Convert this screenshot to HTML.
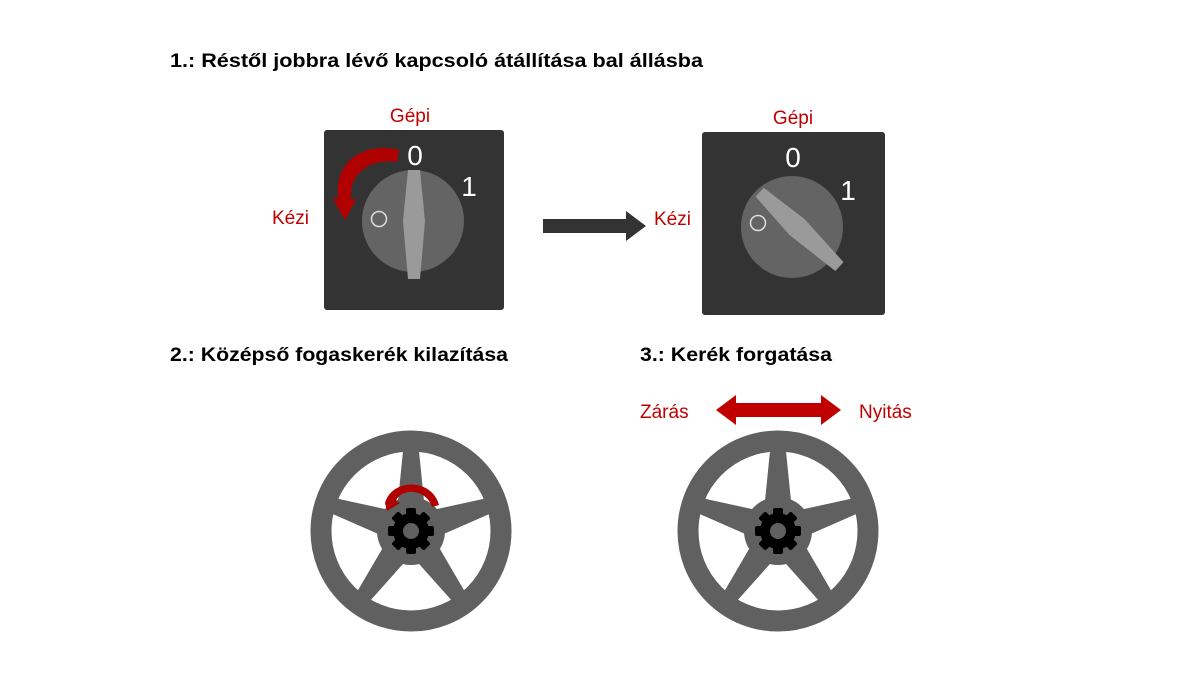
<!DOCTYPE html>
<html><head><meta charset="utf-8"><style>
html,body{margin:0;padding:0;background:#fff;}
svg{display:block;}
</style></head><body>
<svg width="1201" height="676" viewBox="0 0 1201 676" xmlns="http://www.w3.org/2000/svg" font-family="Liberation Sans, sans-serif">
<defs>
<g id="handle"><polygon points="-6,-51 6,-51 11,0 6,58 -6,58 -11,0" fill="#9a9a9a"/></g>
<polygon id="spoke" points="-7,-90 7,-90 15,-10 -15,-10" fill="#606060"/>
<g id="wheel">
  <circle r="90" fill="none" stroke="#606060" stroke-width="21"/>
  <use href="#spoke"/>
  <use href="#spoke" transform="rotate(72)"/>
  <use href="#spoke" transform="rotate(144)"/>
  <use href="#spoke" transform="rotate(216)"/>
  <use href="#spoke" transform="rotate(288)"/>
  <circle r="34" fill="#606060"/>
  <g fill="#000">
    <circle r="18"/>
    <rect x="-5" y="-23" width="10" height="46" rx="2"/>
    <rect x="-5" y="-23" width="10" height="46" rx="2" transform="rotate(45)"/>
    <rect x="-5" y="-23" width="10" height="46" rx="2" transform="rotate(90)"/>
    <rect x="-5" y="-23" width="10" height="46" rx="2" transform="rotate(135)"/>
  </g>
  <circle r="8" fill="#606060"/>
</g>
</defs>

<g font-weight="bold" font-size="19" fill="#000">
<text x="170" y="67" textLength="533" lengthAdjust="spacingAndGlyphs">1.: Réstől jobbra lévő kapcsoló átállítása bal állásba</text>
<text x="170" y="361" textLength="338" lengthAdjust="spacingAndGlyphs">2.: Középső fogaskerék kilazítása</text>
<text x="640" y="361" textLength="192" lengthAdjust="spacingAndGlyphs">3.: Kerék forgatása</text>
</g>

<!-- switch 1 -->
<text x="410" y="122" font-size="19" fill="#c00000" text-anchor="middle">Gépi</text>
<text x="272" y="224" font-size="19" fill="#c00000">Kézi</text>
<rect x="324" y="130" width="180" height="180" rx="3" fill="#333"/>
<circle cx="413" cy="221" r="51" fill="#646464"/>
<circle cx="379" cy="219" r="7.5" fill="none" stroke="#ddd" stroke-width="1.5"/>
<use href="#handle" transform="translate(414,221)"/>
<text x="415" y="165" font-size="28" fill="#fff" text-anchor="middle">0</text>
<text x="469" y="196" font-size="28" fill="#fff" text-anchor="middle">1</text>
<path d="M399,150 C368,142 334,158 338,198 L333,199 L345,220 L356,200 L351,199 C349,172 372,158 397,162 Z" fill="#b00000"/>

<!-- arrow -->
<polygon points="543,219 626,219 626,211 646,226 626,241 626,233 543,233" fill="#333"/>

<!-- switch 2 -->
<text x="793" y="124" font-size="19" fill="#c00000" text-anchor="middle">Gépi</text>
<text x="654" y="225" font-size="19" fill="#c00000">Kézi</text>
<rect x="702" y="132" width="183" height="183" rx="3" fill="#333"/>
<circle cx="792" cy="227" r="51" fill="#646464"/>
<circle cx="758" cy="223" r="7.5" fill="none" stroke="#ddd" stroke-width="1.5"/>
<use href="#handle" transform="translate(797,227) rotate(-47)"/>
<text x="793" y="167" font-size="28" fill="#fff" text-anchor="middle">0</text>
<text x="848" y="200" font-size="28" fill="#fff" text-anchor="middle">1</text>

<!-- wheels -->
<use href="#wheel" transform="translate(411,531)"/>
<path d="M385,503 C392,478 432,478 439,505 L432,507 C426,488 400,488 396,501 L400,503 L387,511 Z" fill="#b00000"/>
<use href="#wheel" transform="translate(778,531)"/>

<text x="640" y="418" font-size="19" fill="#c00000">Zárás</text>
<text x="859" y="418" font-size="19" fill="#c00000">Nyitás</text>
<polygon points="716,410 736,395 736,403 821,403 821,395 841,410 821,425 821,417 736,417 736,425" fill="#c00000"/>
</svg>
</body></html>
